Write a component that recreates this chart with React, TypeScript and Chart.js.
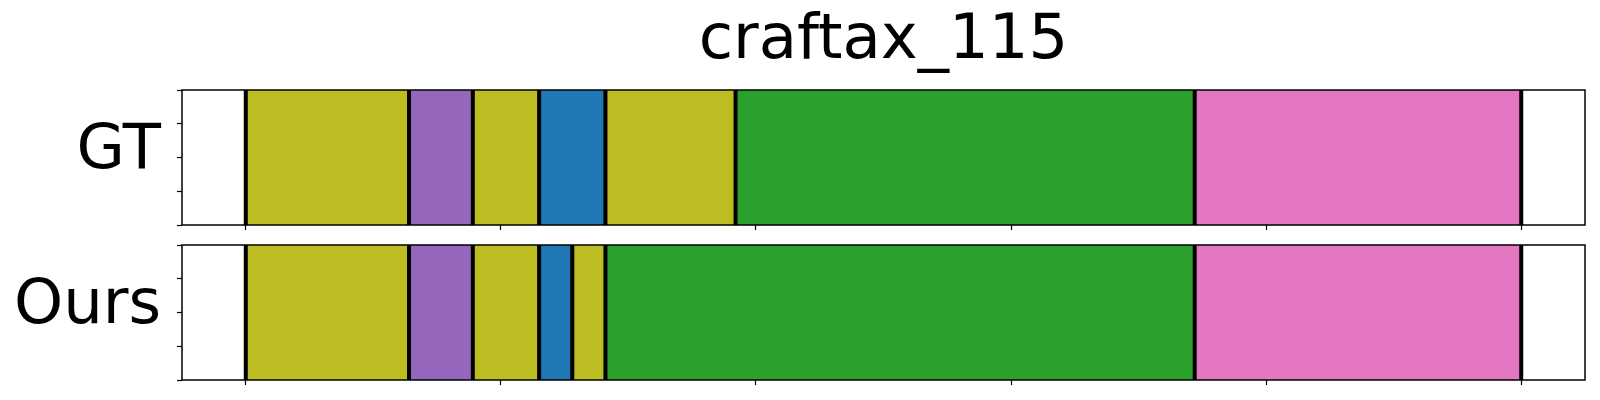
import React, { useEffect, useRef } from 'react';
import { Chart, registerables } from 'chart.js';

Chart.register(...registerables);

const TITLE = 'craftax_115';
const GT_LABEL = 'GT';
const OURS_LABEL = 'Ours';
const GT_BOUNDARIES = [0, 64, 89, 115, 141, 192, 372, 500];
const GT_CLASSES = ['olive', 'purple', 'olive', 'blue', 'olive', 'green', 'pink'];
const OURS_BOUNDARIES = [0, 64, 89, 115, 128, 141, 372, 500];
const OURS_CLASSES = ['olive', 'purple', 'olive', 'blue', 'olive', 'green', 'pink'];
const X_TICKS = [0, 100, 200, 300, 400, 500];
const Y_TICKS = [0, 0.25, 0.5, 0.75, 1];
const X_MIN = -25;
const X_MAX = 525;

const CLASS_COLORS: Record<string, string> = {
  olive: '#bcbd22',
  purple: '#9467bd',
  blue: '#1f77b4',
  green: '#2ca02c',
  pink: '#e377c2',
};

const FONT = "'DejaVu Sans', sans-serif";
const BIG = 62.5;

const framePlugin = {
  id: 'frame',
  afterDraw(chart: any) {
    const { ctx, chartArea: a } = chart;
    ctx.save();
    ctx.strokeStyle = '#000';
    ctx.lineWidth = 1.5;
    ctx.strokeRect(Math.round(a.left), Math.round(a.top), Math.round(a.right) - Math.round(a.left), Math.round(a.bottom) - Math.round(a.top));
    ctx.restore();
  },
};

function makeConfig(label: string, boundaries: number[], classes: string[], withTitle: boolean, padTop: number, xAxisHeight: number): any {
  const segments = classes.map((cls, i) => ({
    type: 'bar',
    label: `${label} ${cls}`,
    data: [[boundaries[i], boundaries[i + 1]]],
    backgroundColor: CLASS_COLORS[cls],
    borderWidth: 0,
    barPercentage: 1,
    categoryPercentage: 1,
    grouped: false,
    indexAxis: 'y',
    xAxisID: 'x',
    yAxisID: 'y',
    order: 1,
  }));
  const linePoints: any[] = [];
  boundaries.forEach((b) => {
    linePoints.push({ x: b, y: 0 }, { x: b, y: 1 }, { x: b, y: null });
  });
  const edges = {
    type: 'line',
    label: `${label} boundaries`,
    data: linePoints,
    borderColor: '#000',
    borderWidth: 4,
    borderCapStyle: 'butt',
    pointRadius: 0,
    spanGaps: false,
    indexAxis: 'x',
    xAxisID: 'x',
    yAxisID: 'y2',
    order: 0,
  };
  return {
    type: 'bar',
    data: { labels: [label], datasets: [...segments, edges] },
    options: {
      animation: false,
      responsive: false,
      devicePixelRatio: 1,
      indexAxis: 'y',
      layout: { autoPadding: false, padding: { left: 0, right: 15, top: padTop, bottom: 0 } },
      plugins: {
        legend: { display: false },
        tooltip: { enabled: false },
        title: {
          display: withTitle,
          text: TITLE,
          color: '#000',
          fullSize: false,
          font: { family: FONT, size: BIG, weight: 'normal', lineHeight: 1.2 },
          padding: { top: 4, bottom: 11 },
        },
      },
      scales: {
        x: {
          type: 'linear',
          axis: 'x',
          position: 'bottom',
          offset: false,
          min: X_MIN,
          max: X_MAX,
          afterBuildTicks: (s: any) => { s.ticks = X_TICKS.map((v) => ({ value: v })); },
          afterFit: (s: any) => { s.height = xAxisHeight; s.paddingLeft = 0; s.paddingRight = 0; },
          ticks: { display: false },
          border: { display: false },
          grid: { offset: false, drawOnChartArea: false, drawTicks: true, tickLength: 5, tickWidth: 1.2, tickColor: '#000', color: '#000' },
        },
        y: {
          type: 'category',
          axis: 'y',
          display: false,
          labels: [label],
        },
        y2: {
          type: 'linear',
          axis: 'y',
          position: 'left',
          offset: false,
          min: 0,
          max: 1,
          afterBuildTicks: (s: any) => { s.ticks = Y_TICKS.map((v) => ({ value: v })); },
          afterFit: (s: any) => { s.width = 182; s.paddingTop = 0; s.paddingBottom = 0; },
          ticks: {
            callback: (v: number) => (v === 0.5 ? label : ''),
            color: '#000',
            font: { family: FONT, size: BIG },
            padding: 16,
            labelOffset: -6,
            autoSkip: false,
          },
          border: { display: false },
          grid: { offset: false, drawOnChartArea: false, drawTicks: true, tickLength: 5, tickWidth: 1.2, tickColor: '#000', color: '#000' },
        },
      },
    },
    plugins: [framePlugin],
  };
}

function Panel(props: { label: string; boundaries: number[]; classes: string[]; withTitle: boolean; top: number; height: number; padTop: number; xAxisHeight: number }) {
  const ref = useRef<HTMLCanvasElement | null>(null);
  useEffect(() => {
    if (!ref.current) return;
    const chart = new Chart(ref.current, makeConfig(props.label, props.boundaries, props.classes, props.withTitle, props.padTop, props.xAxisHeight));
    return () => chart.destroy();
  }, []);
  return (
    <canvas
      ref={ref}
      width={1600}
      height={props.height}
      style={{ position: 'absolute', left: 0, top: props.top, width: 1600, height: props.height, display: 'block' }}
    />
  );
}

export default function App() {
  return (
    <div style={{ position: 'absolute', left: 0, top: 0, width: 1600, height: 400, background: '#fff' }}>
      <Panel label={GT_LABEL} boundaries={GT_BOUNDARIES} classes={GT_CLASSES} withTitle={true} top={0} height={240} padTop={0} xAxisHeight={15} />
      <Panel label={OURS_LABEL} boundaries={OURS_BOUNDARIES} classes={OURS_CLASSES} withTitle={false} top={240} height={160} padTop={5} xAxisHeight={20} />
    </div>
  );
}
